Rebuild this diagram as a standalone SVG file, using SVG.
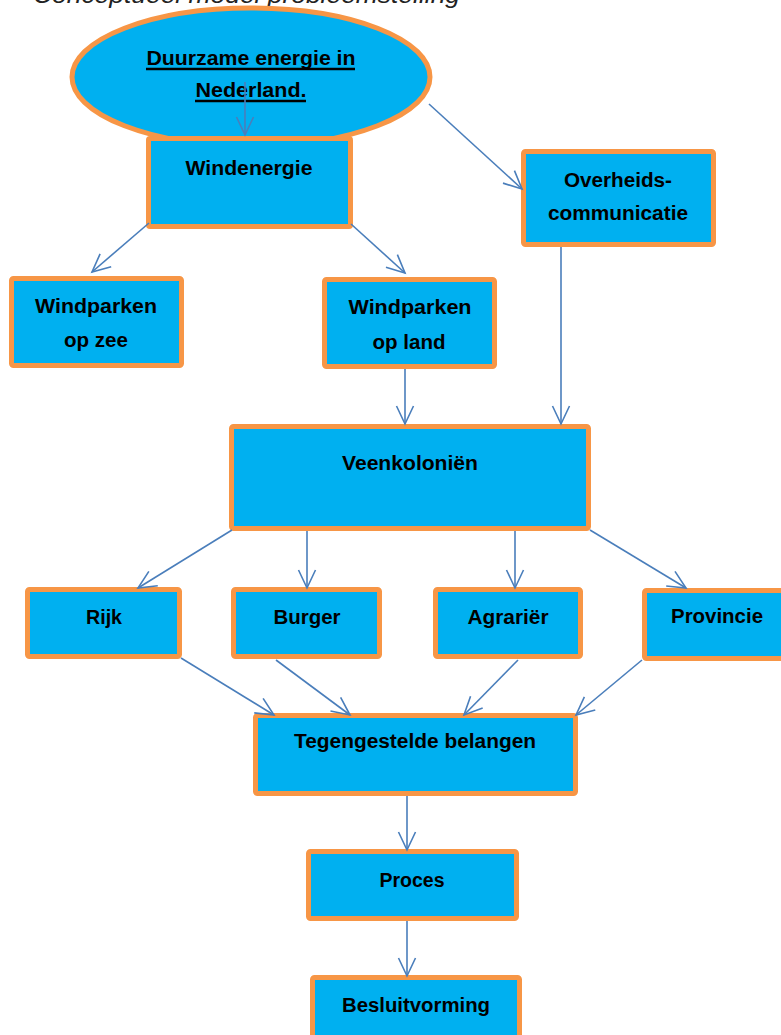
<svg xmlns="http://www.w3.org/2000/svg" width="781" height="1035" viewBox="0 0 781 1035">
<style>
.box{fill:#00B0F0;stroke:#F79646;stroke-width:5}
.lbl{font-family:"Liberation Sans",Arial,sans-serif;font-weight:bold;font-size:20px;fill:#000;text-anchor:middle}
.ul{stroke:#000;stroke-width:2.5}
.conn{stroke:#4A7EBB;stroke-width:1.6;fill:none;marker-end:url(#arr)}
</style>
<defs>
<marker id="arr" markerUnits="userSpaceOnUse" markerWidth="24" markerHeight="24" viewBox="-20 -12 24 24" refX="0" refY="0" orient="auto">
<path d="M-18,-8.5 L0,0 L-18,8.5" fill="none" stroke="#4A7EBB" stroke-width="1.6"/>
</marker>
</defs>
<rect width="781" height="1035" fill="#fff"/>
<text x="33" y="3" font-family="'Liberation Sans',Arial,sans-serif" font-style="italic" font-size="24" textLength="427" lengthAdjust="spacingAndGlyphs" fill="#222">Conceptueel model probleemstelling</text>

<g id="n-duurzaam">
<ellipse class="box" cx="251" cy="77" rx="179" ry="69"/>
<text class="lbl" x="251" y="65" textLength="209" lengthAdjust="spacingAndGlyphs">Duurzame energie in</text>
<line class="ul" x1="146" y1="69" x2="355" y2="69"/>
<text class="lbl" x="251" y="97" textLength="111" lengthAdjust="spacingAndGlyphs">Nederland.</text>
<line class="ul" x1="195" y1="101" x2="306" y2="101"/>
</g>

<g id="n-windenergie">
<rect class="box" x="148.5" y="138.5" width="202" height="88" rx="1.5"/>
<text class="lbl" x="249" y="175" textLength="127" lengthAdjust="spacingAndGlyphs">Windenergie</text>
</g>

<g id="n-overheid">
<rect class="box" x="523.5" y="151.5" width="190" height="93" rx="2"/>
<text class="lbl" x="618" y="187" textLength="108" lengthAdjust="spacingAndGlyphs">Overheids-</text>
<text class="lbl" x="618" y="220" textLength="140" lengthAdjust="spacingAndGlyphs">communicatie</text>
</g>

<g id="n-zee">
<rect class="box" x="11.5" y="278.5" width="170" height="87" rx="2"/>
<text class="lbl" x="96" y="313" textLength="122" lengthAdjust="spacingAndGlyphs">Windparken</text>
<text class="lbl" x="96" y="347" textLength="64" lengthAdjust="spacingAndGlyphs">op zee</text>
</g>

<g id="n-land">
<rect class="box" x="324.5" y="279.5" width="170" height="87" rx="2"/>
<text class="lbl" x="410" y="314" textLength="123" lengthAdjust="spacingAndGlyphs">Windparken</text>
<text class="lbl" x="409" y="349" textLength="73" lengthAdjust="spacingAndGlyphs">op land</text>
</g>

<g id="n-veen">
<rect class="box" x="231.5" y="426.5" width="357" height="102" rx="2"/>
<text class="lbl" x="410" y="470" textLength="136" lengthAdjust="spacingAndGlyphs">Veenkoloniën</text>
</g>

<g id="n-rijk">
<rect class="box" x="27.5" y="589.5" width="152" height="67" rx="2"/>
<text class="lbl" x="104" y="624" textLength="36" lengthAdjust="spacingAndGlyphs">Rijk</text>
</g>

<g id="n-burger">
<rect class="box" x="233.5" y="589.5" width="146" height="67" rx="2"/>
<text class="lbl" x="307" y="624" textLength="67" lengthAdjust="spacingAndGlyphs">Burger</text>
</g>

<g id="n-agrarier">
<rect class="box" x="435.5" y="589.5" width="145" height="67" rx="2"/>
<text class="lbl" x="508" y="624" textLength="81" lengthAdjust="spacingAndGlyphs">Agrariër</text>
</g>

<g id="n-provincie">
<rect class="box" x="644.5" y="590.5" width="150" height="68" rx="2"/>
<text class="lbl" x="717" y="623" textLength="92" lengthAdjust="spacingAndGlyphs">Provincie</text>
</g>

<g id="n-tegen">
<rect class="box" x="255.5" y="715.5" width="320" height="78" rx="2"/>
<text class="lbl" x="415" y="748" textLength="242" lengthAdjust="spacingAndGlyphs">Tegengestelde belangen</text>
</g>

<g id="n-proces">
<rect class="box" x="308.5" y="851.5" width="208" height="67" rx="2"/>
<text class="lbl" x="412" y="887" textLength="65" lengthAdjust="spacingAndGlyphs">Proces</text>
</g>

<g id="n-besluit">
<rect class="box" x="312.5" y="977.5" width="207" height="70" rx="2"/>
<text class="lbl" x="416" y="1012" textLength="148" lengthAdjust="spacingAndGlyphs">Besluitvorming</text>
</g>

<g id="connectors">
<line class="conn" x1="245" y1="82" x2="245" y2="135"/>
<line class="conn" x1="429" y1="104" x2="522" y2="189"/>
<line class="conn" x1="149" y1="223" x2="92" y2="272"/>
<line class="conn" x1="351" y1="224" x2="405" y2="273"/>
<line class="conn" x1="561" y1="247" x2="561" y2="424"/>
<line class="conn" x1="405" y1="369" x2="405" y2="424"/>
<line class="conn" x1="232" y1="530" x2="138" y2="588"/>
<line class="conn" x1="307" y1="531" x2="307" y2="588"/>
<line class="conn" x1="515" y1="531" x2="515" y2="588"/>
<line class="conn" x1="590" y1="530" x2="686" y2="588"/>
<line class="conn" x1="181" y1="658" x2="274" y2="715"/>
<line class="conn" x1="276" y1="660" x2="350" y2="715"/>
<line class="conn" x1="518" y1="660" x2="464" y2="715"/>
<line class="conn" x1="642" y1="660" x2="576" y2="715"/>
<line class="conn" x1="407" y1="796" x2="407" y2="850"/>
<line class="conn" x1="407" y1="921" x2="407" y2="976"/>
</g>
</svg>
